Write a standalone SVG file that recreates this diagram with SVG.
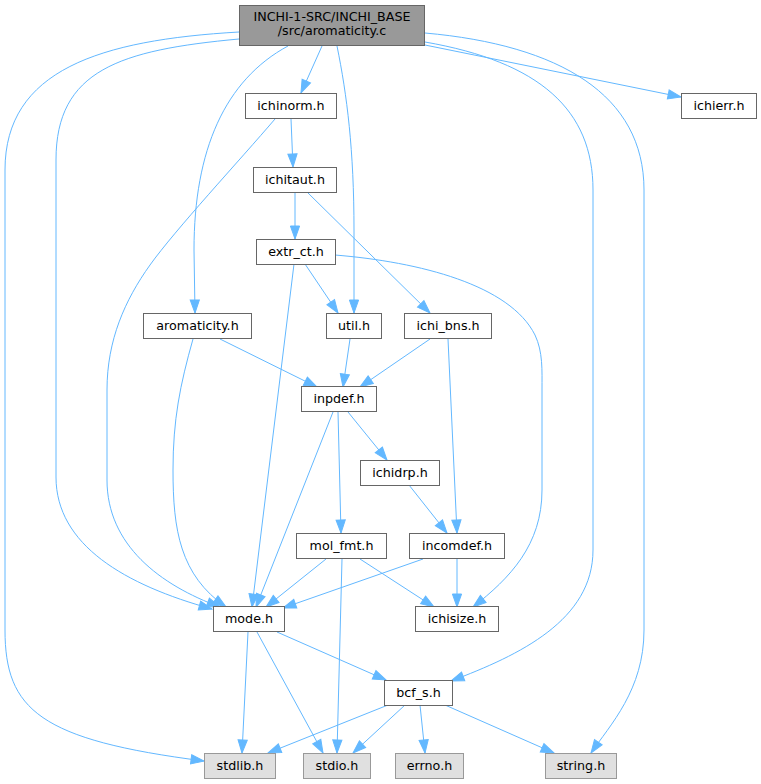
<svg xmlns="http://www.w3.org/2000/svg" width="761" height="784" viewBox="0 0 761 784">
<style>
.n rect{fill:#ffffff;stroke:#666666;stroke-width:1}
.root rect{fill:#999999;stroke:#666666}
.leaf rect{fill:#e0e0e0;stroke:#999999}
text{font-family:"DejaVu Sans","Liberation Sans",sans-serif;font-size:12.7px;fill:#000000;text-anchor:middle}
.e path{fill:none;stroke:#63b8ff;stroke-width:1;marker-end:url(#arr)}
</style>
<defs>
<marker id="arr" markerWidth="14" markerHeight="10" refX="13" refY="5" orient="auto" markerUnits="userSpaceOnUse" overflow="visible">
<path d="M0,0.4 L13,5 L0,9.6 z" fill="#63b8ff" stroke="#63b8ff" stroke-width="1"/>
</marker>
</defs>
<rect width="761" height="784" fill="#ffffff"/>
<g id="edges" class="e">
<path d="M322,46 L301,93"/>
<path d="M337,46 C347,95 354,150 354,230 L354,313"/>
<path d="M288,46 C225,80 194,150 194,250 L195,313"/>
<path d="M239,39 C120,50 56,70 56,160 L56,477 C56,545 125,585 212,609"/>
<path d="M239,32 C100,40 5,70 5,170 L5,630 C5,710 40,740 204,761"/>
<path d="M425,42 C540,62 593,110 593,190 L593,550 C593,620 520,655 451,681"/>
<path d="M425,33 C560,45 644,95 644,190 L644,630 C644,690 610,725 591,753"/>
<path d="M425,45 L681,97"/>
<path d="M291,119 L293,167"/>
<path d="M275,119 C240,160 175,230 150,265 C125,300 107,340 107,390 L107,480 C107,545 160,585 220,607"/>
<path d="M295,192 L295,239"/>
<path d="M307,192 L430,313"/>
<path d="M305,264 L338,313"/>
<path d="M294,264 L252,607"/>
<path d="M335,255 C420,262 510,285 535,335 C543,352 542,370 542,390 L542,490 C542,545 510,578 473,607"/>
<path d="M220,339 L317,387"/>
<path d="M193,339 C180,385 173,420 173,470 C173,530 180,575 226,607"/>
<path d="M350,339 L343,387"/>
<path d="M430,339 L360,387"/>
<path d="M448,339 L457,533"/>
<path d="M348,412 L387,460"/>
<path d="M338,412 L341,533"/>
<path d="M333,412 L256,607"/>
<path d="M409,485 L447,533"/>
<path d="M326,559 L266,607"/>
<path d="M342,559 L337,753"/>
<path d="M360,559 L434,607"/>
<path d="M423,559 L283,608"/>
<path d="M457,559 L457,607"/>
<path d="M277,632 L386,680"/>
<path d="M248,632 L242,753"/>
<path d="M257,632 L323,753"/>
<path d="M388,705 L268,753"/>
<path d="M405,705 L353,753"/>
<path d="M420,705 L425,753"/>
<path d="M445,705 L554,753"/>
</g>
<g id="root" class="n root"><rect x="239.5" y="5.5" width="185" height="40"/><text x="332" y="21">INCHI-1-SRC/INCHI_BASE</text><text x="332" y="35">/src/aromaticity.c</text></g>
<g id="ichinorm" class="n"><rect x="245.5" y="93.5" width="91" height="25"/><text x="291" y="109.5">ichinorm.h</text></g>
<g id="ichierr" class="n"><rect x="681.5" y="93.5" width="75" height="25"/><text x="719" y="109.5">ichierr.h</text></g>
<g id="ichitaut" class="n"><rect x="253.5" y="167.5" width="83" height="25"/><text x="295" y="183.5">ichitaut.h</text></g>
<g id="extr_ct" class="n"><rect x="256.5" y="239.5" width="79" height="25"/><text x="296" y="255.5">extr_ct.h</text></g>
<g id="aromaticity" class="n"><rect x="143.5" y="313.5" width="108" height="25"/><text x="197.5" y="329.5">aromaticity.h</text></g>
<g id="util" class="n"><rect x="326.5" y="313.5" width="55" height="25"/><text x="354" y="329.5">util.h</text></g>
<g id="ichi_bns" class="n"><rect x="404.5" y="313.5" width="87" height="25"/><text x="448" y="329.5">ichi_bns.h</text></g>
<g id="inpdef" class="n"><rect x="301.5" y="386.5" width="75" height="25"/><text x="339" y="402.5">inpdef.h</text></g>
<g id="ichidrp" class="n"><rect x="360.5" y="460.5" width="79" height="25"/><text x="400" y="476.5">ichidrp.h</text></g>
<g id="mol_fmt" class="n"><rect x="296.5" y="533.5" width="90" height="25"/><text x="341.5" y="549.5">mol_fmt.h</text></g>
<g id="incomdef" class="n"><rect x="409.5" y="533.5" width="95" height="25"/><text x="457" y="549.5">incomdef.h</text></g>
<g id="mode" class="n"><rect x="213.5" y="606.5" width="71" height="25"/><text x="249" y="622.5">mode.h</text></g>
<g id="ichisize" class="n"><rect x="415.5" y="606.5" width="83" height="25"/><text x="457" y="622.5">ichisize.h</text></g>
<g id="bcf_s" class="n"><rect x="384.5" y="680.5" width="68" height="25"/><text x="418.5" y="696.5">bcf_s.h</text></g>
<g id="stdlib" class="n leaf"><rect x="204.5" y="753.5" width="71" height="25"/><text x="240" y="769.5">stdlib.h</text></g>
<g id="stdio" class="n leaf"><rect x="303.5" y="753.5" width="67" height="25"/><text x="337" y="769.5">stdio.h</text></g>
<g id="errno" class="n leaf"><rect x="395.5" y="753.5" width="68" height="25"/><text x="429.5" y="769.5">errno.h</text></g>
<g id="string" class="n leaf"><rect x="545.5" y="753.5" width="71" height="25"/><text x="581" y="769.5">string.h</text></g>
</svg>
